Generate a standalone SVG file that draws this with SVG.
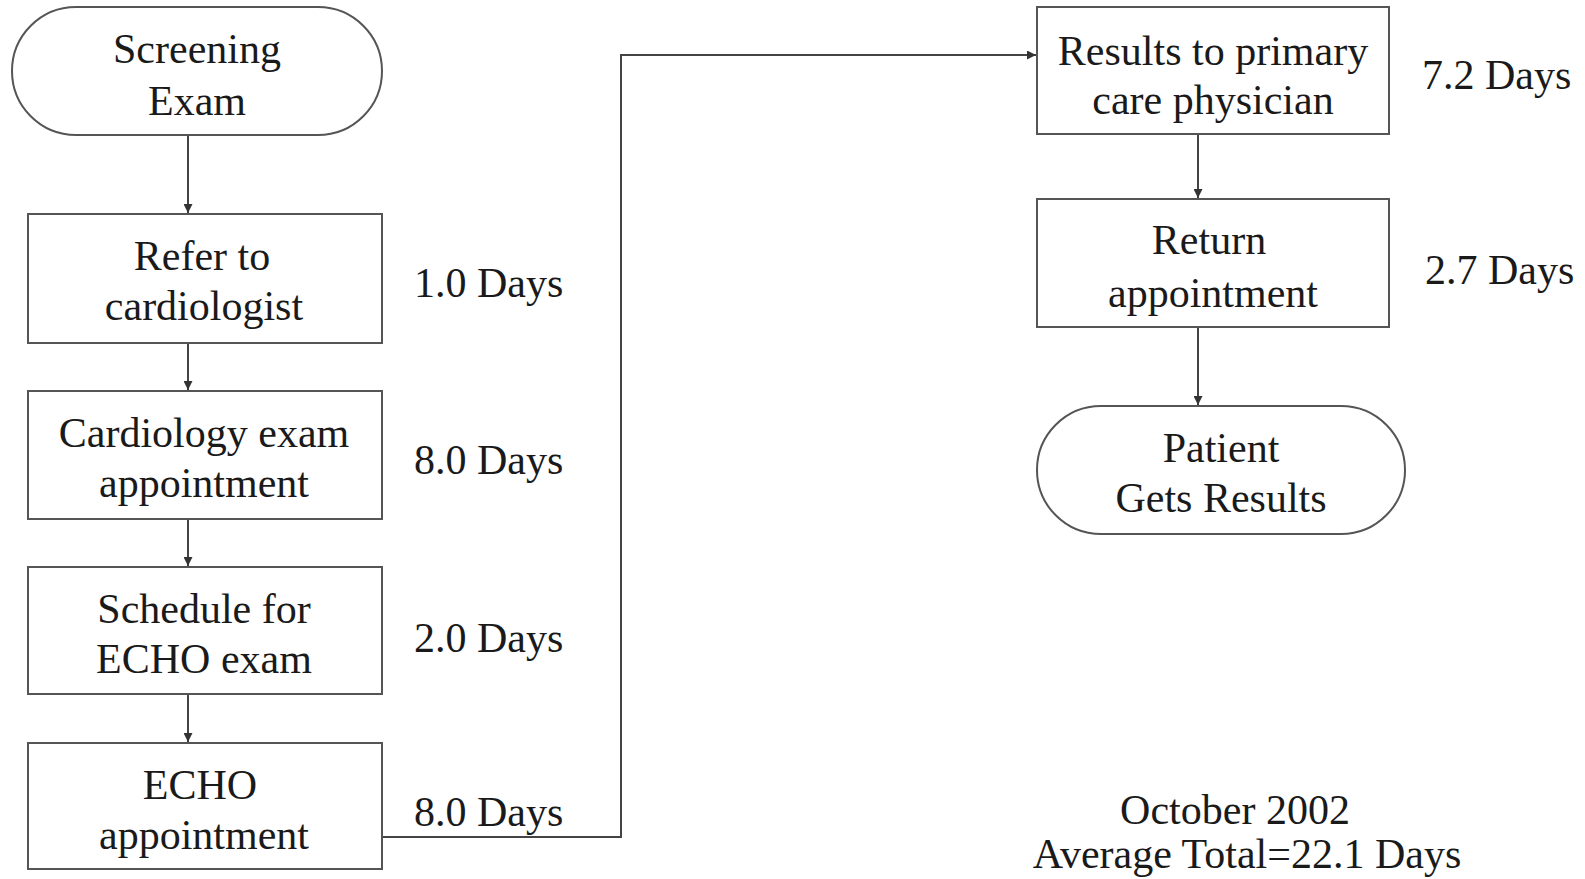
<svg xmlns="http://www.w3.org/2000/svg" width="1585" height="879" viewBox="0 0 1585 879">
<style>
.shape{fill:#fff;stroke:#555;stroke-width:2}
.t{font-family:"Liberation Serif","Times New Roman",serif;font-size:42px;fill:#1a1a1a;text-anchor:middle}
.d{font-family:"Liberation Serif","Times New Roman",serif;font-size:42px;fill:#1a1a1a}
.c{fill:none;stroke:#444;stroke-width:2}
</style>
<defs>
<marker id="ah" viewBox="0 0 10 10" refX="10" refY="5" markerWidth="10" markerHeight="9" markerUnits="userSpaceOnUse" orient="auto">
<path d="M0,0 L10,5 L0,10 z" fill="#333"/>
</marker>
</defs>
<rect width="1585" height="879" fill="#fff"/>
<g id="connectors">
<line class="c" x1="188" y1="135" x2="188" y2="213" marker-end="url(#ah)"/>
<line class="c" x1="188" y1="343" x2="188" y2="390" marker-end="url(#ah)"/>
<line class="c" x1="188" y1="519" x2="188" y2="566" marker-end="url(#ah)"/>
<line class="c" x1="188" y1="694" x2="188" y2="742" marker-end="url(#ah)"/>
<polyline class="c" points="382,837 621,837 621,55 1036,55" marker-end="url(#ah)"/>
<line class="c" x1="1198" y1="134" x2="1198" y2="198" marker-end="url(#ah)"/>
<line class="c" x1="1198" y1="327" x2="1198" y2="405" marker-end="url(#ah)"/>
</g>
<g id="screening">
<rect class="shape" x="12" y="7" width="370" height="128" rx="64" ry="64"/>
<text class="t" x="197" y="63">Screening</text>
<text class="t" x="197" y="115">Exam</text>
</g>
<g id="refer">
<rect class="shape" x="28" y="214" width="354" height="129"/>
<text class="t" x="202" y="270">Refer to</text>
<text class="t" x="204" y="320">cardiologist</text>
</g>
<g id="cardiology">
<rect class="shape" x="28" y="391" width="354" height="128"/>
<text class="t" x="204" y="447">Cardiology exam</text>
<text class="t" x="204" y="497">appointment</text>
</g>
<g id="schedule">
<rect class="shape" x="28" y="567" width="354" height="127"/>
<text class="t" x="204" y="623">Schedule for</text>
<text class="t" x="204" y="673">ECHO exam</text>
</g>
<g id="echo">
<rect class="shape" x="28" y="743" width="354" height="126"/>
<text class="t" x="200" y="799">ECHO</text>
<text class="t" x="204" y="849">appointment</text>
</g>
<g id="results">
<rect class="shape" x="1037" y="7" width="352" height="127"/>
<text class="t" x="1213" y="65">Results to primary</text>
<text class="t" x="1213" y="114">care physician</text>
</g>
<g id="return">
<rect class="shape" x="1037" y="199" width="352" height="128"/>
<text class="t" x="1209" y="254">Return</text>
<text class="t" x="1213" y="307">appointment</text>
</g>
<g id="patient">
<rect class="shape" x="1037" y="406" width="368" height="128" rx="64" ry="64"/>
<text class="t" x="1221" y="462">Patient</text>
<text class="t" x="1221" y="512">Gets Results</text>
</g>
<g id="labels">
<text class="d" x="414" y="297">1.0 Days</text>
<text class="d" x="414" y="474">8.0 Days</text>
<text class="d" x="414" y="652">2.0 Days</text>
<text class="d" x="414" y="826">8.0 Days</text>
<text class="d" x="1422" y="89">7.2 Days</text>
<text class="d" x="1425" y="284">2.7 Days</text>
<text class="t" x="1235" y="824">October 2002</text>
<text class="t" x="1247" y="868">Average Total=22.1 Days</text>
</g>
</svg>
